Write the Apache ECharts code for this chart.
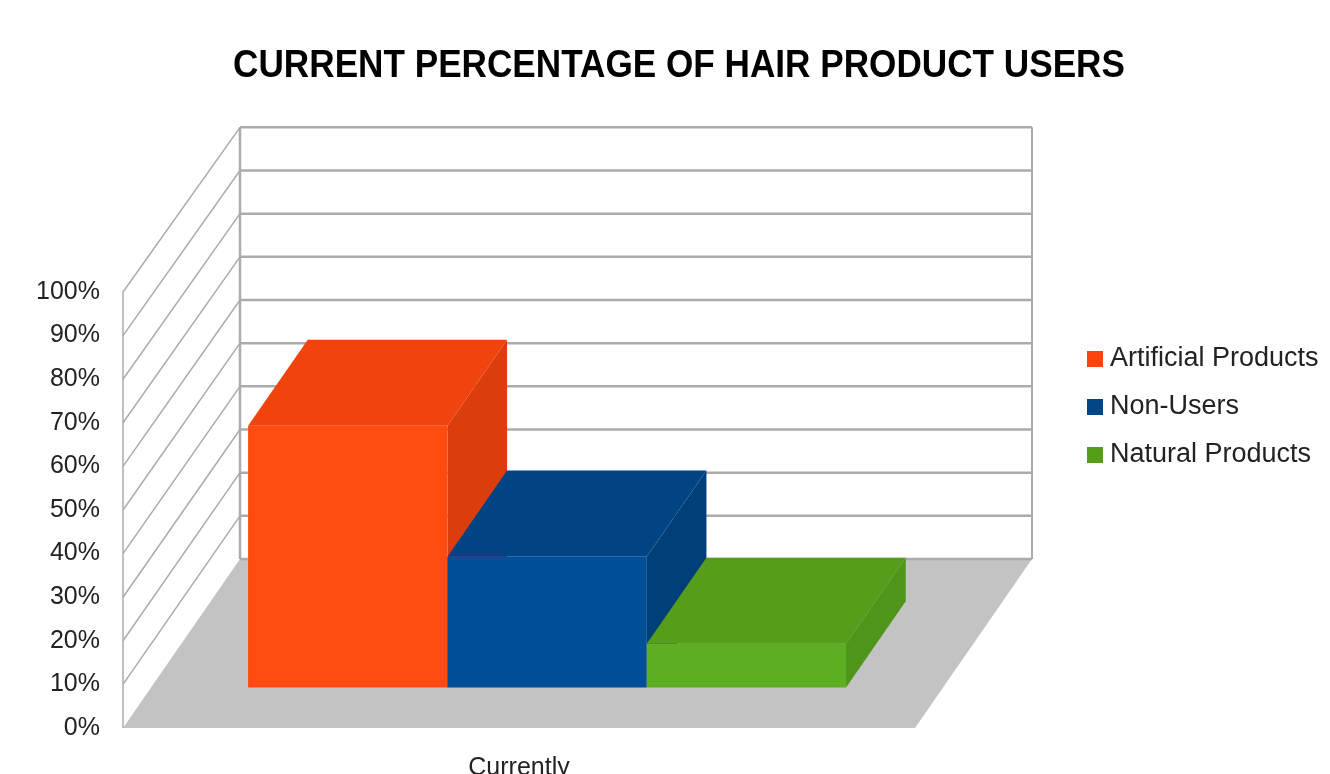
<!DOCTYPE html>
<html>
<head>
<meta charset="utf-8">
<script src="https://cdn.jsdelivr.net/npm/echarts@6/dist/echarts.min.js"></script>
<style>
html,body{margin:0;padding:0;background:#fff;}
#chart{width:1330px;height:774px;}
</style>
</head>
<body>
<div id="chart"></div>
<script>
// ---- data ----
const categories = ['Currently'];
const seriesNames = ['Artificial Products', 'Non-Users', 'Natural Products'];
const artificialProducts = [60];
const nonUsers = [30];
const naturalProducts = [10];
const yTicks = [0, 10, 20, 30, 40, 50, 60, 70, 80, 90, 100];
const titleText = 'CURRENT PERCENTAGE OF HAIR PRODUCT USERS';

// ---- style ----
const baseColors = ['#ff420e', '#004586', '#579d1c'];
const faceColors = [
  { front: '#ff4a10', top: '#f0430e', side: '#dc3d0c' },
  { front: '#004f98', top: '#004484', side: '#003f78' },
  { front: '#5dae20', top: '#569d1c', side: '#4f951a' }
];
const DX = 117, DY = -169;          // oblique depth vector (px)
const BACK_SCALE = 0.99;            // slight perspective shrink of back wall
const FRONT_D = 0.24, BACK_D = 0.75; // bar depth range (fraction)
const GROUP_RATIO = 0.755;
const LINE = '#ababab';
const FONT = "'Liberation Sans', Arial, sans-serif";

const chart = echarts.init(document.getElementById('chart'), null, { renderer: 'canvas' });

// y position on back wall, with slight perspective shrink about the floor
function backY(y, y0) { return y0 + DY + (y - y0) * BACK_SCALE; }

function barRender(k) {
  return function (params, api) {
    const xv = api.value(0);
    const base = api.coord([xv, 0]);
    const topP = api.coord([xv, api.value(1)]);
    const band = api.size([1, 0])[0];
    const groupW = band * GROUP_RATIO;
    const barW = groupW / 3;
    const xl = base[0] - groupW / 2 + k * barW;
    const xr = xl + barW;
    const yb = base[1], yt = topP[1];
    const ox1 = DX * FRONT_D, oy1 = DY * FRONT_D;
    const ox2 = DX * BACK_D, oy2 = DY * BACK_D;
    const c = faceColors[k];
    return {
      type: 'group',
      children: [
        { type: 'polygon', shape: { points: [[xr + ox1, yt + oy1], [xr + ox2, yt + oy2], [xr + ox2, yb + oy2], [xr + ox1, yb + oy1]] }, style: { fill: c.side } },
        { type: 'polygon', shape: { points: [[xl + ox1, yt + oy1], [xr + ox1, yt + oy1], [xr + ox2, yt + oy2], [xl + ox2, yt + oy2]] }, style: { fill: c.top } },
        { type: 'rect', shape: { x: xl + ox1, y: yt + oy1, width: barW, height: yb - yt }, style: { fill: c.front } }
      ]
    };
  };
}

function floorRender(params, api) {
  const cs = params.coordSys;
  const x0 = cs.x, x1 = cs.x + cs.width;
  const y0 = api.coord([0, yTicks[0]])[1];
  const y100 = api.coord([0, yTicks[yTicks.length - 1]])[1];
  const by0 = backY(y0, y0), by100 = backY(y100, y0);
  return {
    type: 'group',
    children: [
      { type: 'rect', shape: { x: x0 + DX, y: by100, width: x1 - x0, height: by0 - by100 }, style: { fill: '#ffffff' } },
      { type: 'polygon', shape: { points: [[x0, y0], [x0, y100], [x0 + DX, by100], [x0 + DX, by0]] }, style: { fill: '#ffffff' } },
      { type: 'polygon', shape: { points: [[x0, y0], [x1, y0], [x1 + DX, by0], [x0 + DX, by0]] }, style: { fill: '#c3c3c3' } },
      { type: 'line', shape: { x1: x0, y1: y0, x2: x0, y2: y100 }, style: { stroke: LINE, lineWidth: 1.5 } },
      { type: 'line', shape: { x1: x0 + DX, y1: by0, x2: x0 + DX, y2: by100 }, style: { stroke: LINE, lineWidth: 2.5 } },
      { type: 'line', shape: { x1: x1 + DX, y1: by0, x2: x1 + DX, y2: by100 }, style: { stroke: LINE, lineWidth: 2 } }
    ]
  };
}

function gridLineRender(params, api) {
  const cs = params.coordSys;
  const x0 = cs.x, x1 = cs.x + cs.width;
  const y0 = api.coord([0, yTicks[0]])[1];
  const y = api.coord([0, api.value(1)])[1];
  const by = backY(y, y0);
  const isZero = api.value(1) === yTicks[0];
  const children = [
    { type: 'line', shape: { x1: x0 + DX, y1: by, x2: x1 + DX, y2: by }, style: { stroke: LINE, lineWidth: 2.5 } }
  ];
  if (!isZero) {
    children.push({ type: 'line', shape: { x1: x0, y1: y, x2: x0 + DX, y2: by }, style: { stroke: LINE, lineWidth: 1.5 } });
  }
  return { type: 'group', children: children };
}

const barValues = [artificialProducts, nonUsers, naturalProducts];

const series = [
  { type: 'custom', name: 'floor', silent: true, z: 1, renderItem: floorRender, data: [[0, 0]], encode: { x: 0, y: 1 } },
  { type: 'custom', name: 'gridLines', silent: true, z: 2, renderItem: gridLineRender, data: yTicks.map(v => [0, v]), encode: { x: 0, y: 1 } }
];
seriesNames.forEach((name, k) => {
  series.push({
    type: 'custom',
    name: name,
    z: 3 + k,
    itemStyle: { color: baseColors[k] },
    renderItem: barRender(k),
    data: barValues[k].map((v, i) => [i, v]),
    encode: { x: 0, y: 1 }
  });
});

chart.setOption({
  animation: false,
  backgroundColor: '#ffffff',
  graphic: [{
    type: 'text',
    x: 679,
    y: 48,
    scaleX: 0.925,
    silent: true,
    style: {
      text: titleText,
      textAlign: 'center',
      textVerticalAlign: 'top',
      fontFamily: FONT,
      fontWeight: 'bold',
      fontSize: 38,
      fill: '#000'
    }
  }],
  legend: {
    data: seriesNames,
    orient: 'vertical',
    left: 1082,
    top: 339,
    icon: 'rect',
    itemWidth: 16,
    itemHeight: 16,
    itemGap: 18,
    textStyle: { fontFamily: FONT, fontSize: 27, color: '#222', lineHeight: 30, padding: [0, 0, 0, 2] }
  },
  grid: { left: 123, right: 415, top: 292, bottom: 46, containLabel: false, outerBoundsMode: 'none' },
  xAxis: {
    type: 'category',
    data: categories,
    axisLine: { show: false },
    axisTick: { show: false },
    splitLine: { show: false },
    axisLabel: { margin: 28, fontFamily: FONT, fontSize: 25, color: '#222' }
  },
  yAxis: {
    type: 'value',
    min: 0,
    max: 100,
    interval: 10,
    axisLine: { show: false },
    axisTick: { show: false },
    splitLine: { show: false },
    axisLabel: { formatter: '{value}%', margin: 23, fontFamily: FONT, fontSize: 25, color: '#222' }
  },
  series: series
});
</script>
</body>
</html>
